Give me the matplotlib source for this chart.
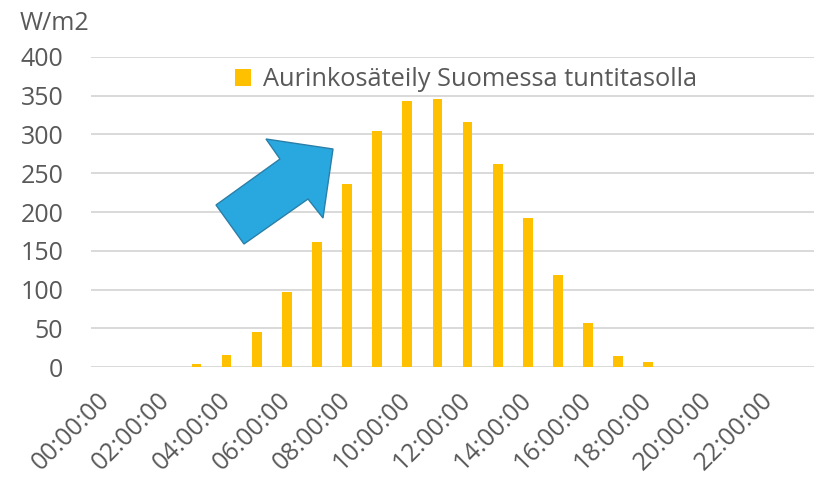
import matplotlib
matplotlib.use("Agg")
import matplotlib.pyplot as plt
from matplotlib.patches import Polygon

plt.rcParams['font.family'] = ['Open Sans', 'DejaVu Sans']

hours = [f"{h:02d}:00:00" for h in range(24)]
values = [0, 0, 0, 4, 16, 46, 97, 161, 236, 304, 343, 345,
          316, 262, 192, 119, 57, 15, 7, 0, 0, 0, 0, 0]
y_ticks = [0, 50, 100, 150, 200, 250, 300, 350, 400]
series_name = "Aurinkosäteily Suomessa tuntitasolla"
unit_label = "W/m2"

W, H = 817, 483
fig = plt.figure(figsize=(W / 100, H / 100), dpi=100)
ax = fig.add_axes([91 / W, (H - 367.3) / H, (814 - 91) / W, (367.3 - 56.7) / H])

text_col = '#595959'
grid_col = '#d9d9d9'

x = list(range(len(hours)))
ax.bar(x, values, width=0.32, color='#FFC000', label=series_name, zorder=3)

ax.set_xlim(-0.5, len(hours) - 0.5)
ax.set_ylim(0, 400)
ax.set_yticks(y_ticks)
ax.set_yticklabels([str(v) for v in y_ticks], fontsize=18, color=text_col)
ax.set_xticks(x[::2])
ax.set_xticklabels(hours[::2], fontsize=18, color=text_col,
                   rotation=45, ha='right', va='center', rotation_mode='anchor')
ax.tick_params(axis='y', length=0, pad=20)
ax.tick_params(axis='x', length=0, pad=21)

for s in ax.spines.values():
    s.set_visible(False)
ax.yaxis.grid(True, color=grid_col, linewidth=1.4, zorder=0)
ax.set_axisbelow(True)

fig.text(20 / W, 1 - 30 / H, unit_label, fontsize=18, color=text_col,
         ha='left', va='baseline')

leg = fig.legend(loc='center left', bbox_to_anchor=(235 / W, 1 - 80 / H),
                 frameon=False, fontsize=18.3, borderpad=0, borderaxespad=0,
                 handlelength=0.63, handleheight=0.63, handletextpad=0.47)
for t in leg.get_texts():
    t.set_color(text_col)

arrow_px = [(333, 149), (266, 139), (280, 159), (216, 205), (244, 244),
            (308, 199), (323, 218)]
arrow = Polygon([(px / W, 1 - py / H) for px, py in arrow_px], closed=True,
                facecolor='#29A8E0', edgecolor='#2A7FA8', linewidth=1.0,
                transform=fig.transFigure, zorder=10)
fig.add_artist(arrow)

fig.savefig('out.png', dpi=100)
